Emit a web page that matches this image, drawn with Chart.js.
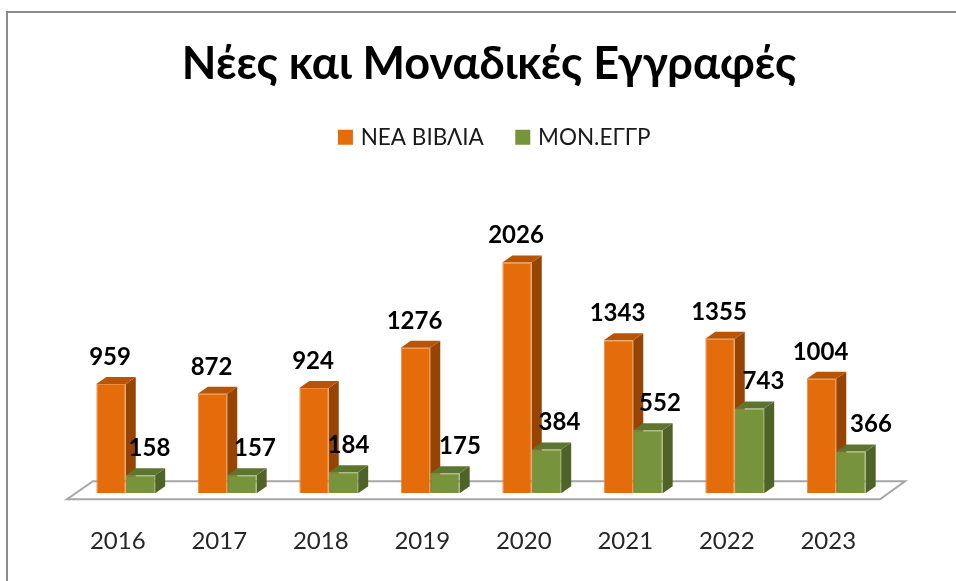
<!DOCTYPE html>
<html>
<head>
<meta charset="utf-8">
<script src="https://cdn.jsdelivr.net/npm/chart.js@4"></script>
<style>
html, body { margin: 0; padding: 0; background: #fff; }
#wrap { position: absolute; left: 0; top: 0; width: 956px; height: 581px; }
</style>
</head>
<body>
<div id="wrap"><canvas id="graph"></canvas></div>
<script>
const years = ["2016", "2017", "2018", "2019", "2020", "2021", "2022", "2023"];
const nea_vivlia = [959, 872, 924, 1276, 2026, 1343, 1355, 1004];
const mon_eggr = [158, 157, 184, 175, 384, 552, 743, 366];

/* the green labels were moved by hand in the original */
const green_label_shift = [9, 13, 5, 15, 13, 12, 14, 20];

const font_name = "Lato, 'Open Sans', sans-serif";
const depth_x = 10;
const depth_y = 7;

function face(ctx, points, color) {
    ctx.fillStyle = color;
    ctx.beginPath();
    ctx.moveTo(points[0][0], points[0][1]);
    for (let i = 1; i < points.length; i++) {
        ctx.lineTo(points[i][0], points[i][1]);
    }
    ctx.closePath();
    ctx.fill();
}

const bars3d = {
    id: "bars3d",
    afterLayout(chart) {
        /* legend sits a bit right of the title */
        chart.legend.left += 7;
        chart.legend.right += 7;
    },
    beforeDatasetsDraw(chart) {
        const ctx = chart.ctx;
        const area = chart.chartArea;

        /* frame */
        ctx.save();
        ctx.strokeStyle = "#8c8c8c";
        ctx.lineWidth = 2;
        ctx.beginPath();
        ctx.moveTo(7, 581);
        ctx.lineTo(7, 12);
        ctx.lineTo(956, 12);
        ctx.stroke();

        /* floor */
        ctx.strokeStyle = "#a6a6a6";
        ctx.lineWidth = 2;
        ctx.beginPath();
        ctx.moveTo(area.left - 8, area.bottom + 6);
        ctx.lineTo(area.right - 7, area.bottom + 6);
        ctx.lineTo(area.right + 18, area.bottom - 12);
        ctx.lineTo(area.left + 18, area.bottom - 12);
        ctx.closePath();
        ctx.stroke();

        /* sides and tops, the fronts come from the library */
        const side = ["#964404", "#4f6228"];
        const top = ["#b85405", "#5e7530"];
        [0, 1].forEach(function (d) {
            chart.getDatasetMeta(d).data.forEach(function (bar) {
                const l = bar.x - bar.width / 2;
                const r = bar.x + bar.width / 2;
                face(ctx, [[r, bar.y], [r + depth_x, bar.y - depth_y], [r + depth_x, bar.base - depth_y], [r, bar.base]], side[d]);
                face(ctx, [[l, bar.y], [l + depth_x, bar.y - depth_y], [r + depth_x, bar.y - depth_y], [r, bar.y]], top[d]);
            });
        });
        ctx.restore();
    },
    afterDatasetsDraw(chart) {
        const ctx = chart.ctx;
        ctx.save();
        ctx.font = "bold 24px " + font_name;
        ctx.fillStyle = "#000";
        ctx.textAlign = "center";
        ctx.textBaseline = "middle";
        chart.getDatasetMeta(0).data.forEach(function (bar, i) {
            ctx.fillText(nea_vivlia[i], bar.x - 1, bar.y - 27);
        });
        chart.getDatasetMeta(1).data.forEach(function (bar, i) {
            ctx.fillText(mon_eggr[i], bar.x + green_label_shift[i], bar.y - 27);
        });
        ctx.restore();
    },
};

const ctx = document.getElementById("graph");
const graph = new Chart(ctx, {
    type: "bar",
    data: {
        labels: years,
        datasets: [
            {
                label: "ΝΕΑ ΒΙΒΛΙΑ",
                data: nea_vivlia,
                backgroundColor: "#e46c0a",
                borderColor: "#ec8a3c",
                borderWidth: 1,
                barPercentage: 1,
                categoryPercentage: 0.58,
            },
            {
                label: "ΜΟΝ.ΕΓΓΡ",
                data: mon_eggr,
                backgroundColor: "#77933c",
                borderColor: "#8ea655",
                borderWidth: 1,
                barPercentage: 1,
                categoryPercentage: 0.58,
            },
        ],
    },
    plugins: [bars3d],
    options: {
        responsive: true,
        maintainAspectRatio: false,
        animation: false,
        layout: { padding: { left: 75, right: 53, top: 0, bottom: 0 } },
        plugins: {
            tooltip: { enabled: false },
            title: {
                display: true,
                text: "Νέες και Μοναδικές Εγγραφές",
                color: "#000",
                font: { family: font_name, size: 45, weight: "bold" },
                padding: { top: 37, bottom: 0 },
            },
            legend: {
                display: true,
                labels: {
                    color: "#1a1a1a",
                    font: { family: font_name, size: 22.5 },
                    boxWidth: 8,
                    boxHeight: 8,
                    padding: 35,
                    /* thick stroke makes the 15px square, so the text comes closer to it */
                    generateLabels(chart) {
                        return chart.data.datasets.map(function (ds, i) {
                            return {
                                text: ds.label,
                                fillStyle: ds.backgroundColor,
                                strokeStyle: ds.backgroundColor,
                                lineWidth: 7,
                                fontColor: "#1a1a1a",
                                datasetIndex: i,
                            };
                        });
                    },
                },
            },
        },
        scales: {
            x: {
                grid: { display: false },
                border: { display: false },
                ticks: {
                    color: "#262626",
                    font: { family: font_name, size: 24 },
                    padding: 25.5,
                    labelOffset: -8,
                    maxRotation: 0,
                },
            },
            y: {
                position: "right",
                grid: { display: false },
                border: { display: false },
                ticks: { display: false },
                afterFit(scale) {
                    scale.width = 16;
                },
                min: 0,
                max: 2938,
            },
        },
    },
});
</script>
</body>
</html>
